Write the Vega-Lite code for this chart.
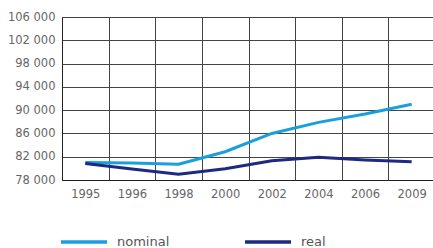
{
  "$schema": "https://vega.github.io/schema/vega-lite/v6.json",
  "autosize": "none",
  "padding": {"left": 62, "top": 17, "right": 0, "bottom": 68},
  "width": 373,
  "height": 163,
  "background": "white",
  "config": {
    "view": {"stroke": null},
    "font": "DejaVu Sans",
    "axis": {"labelFont": "DejaVu Sans", "labelColor": "#666", "labelFontSize": 11.5, "gridColor": "#444", "gridOpacity": 1, "gridWidth": 1, "domainColor": "#222", "ticks": false}
  },
  "data": {
    "values": [
      {"year": "1995", "series": "nominal", "value": 81000},
      {"year": "1996", "series": "nominal", "value": 80900},
      {"year": "1998", "series": "nominal", "value": 80700},
      {"year": "2000", "series": "nominal", "value": 82850},
      {"year": "2002", "series": "nominal", "value": 86000},
      {"year": "2004", "series": "nominal", "value": 87900},
      {"year": "2006", "series": "nominal", "value": 89350},
      {"year": "2009", "series": "nominal", "value": 91000},
      {"year": "1995", "series": "real", "value": 80850},
      {"year": "1996", "series": "real", "value": 79900},
      {"year": "1998", "series": "real", "value": 78980},
      {"year": "2000", "series": "real", "value": 79950},
      {"year": "2002", "series": "real", "value": 81300},
      {"year": "2004", "series": "real", "value": 81900},
      {"year": "2006", "series": "real", "value": 81450},
      {"year": "2009", "series": "real", "value": 81150}
    ]
  },
  "mark": {"type": "line", "strokeWidth": 3, "strokeCap": "butt", "clip": false},
  "encoding": {
    "x": {
      "field": "year", "type": "ordinal", "sort": null,
      "scale": {"type": "band", "paddingInner": 0, "paddingOuter": 0},
      "axis": {"title": null, "labelAngle": 0, "tickBand": "extent", "grid": true, "labelPadding": 8, "domain": true}
    },
    "y": {
      "field": "value", "type": "quantitative",
      "scale": {"domain": [78000, 106000], "nice": false, "zero": false},
      "axis": {"title": null, "values": [78000, 82000, 86000, 90000, 94000, 98000, 102000, 106000], "labelExpr": "replace(format(datum.value, ',d'), ',', ' ')", "labelPadding": 7, "grid": true, "domain": true}
    },
    "color": {
      "field": "series", "type": "nominal",
      "scale": {"domain": ["nominal", "real"], "range": ["#1a9fdc", "#1c2a80"]},
      "legend": {
        "title": null, "orient": "none", "direction": "horizontal", "legendX": -3, "legendY": 200,
        "symbolType": "stroke", "symbolSize": 2116, "symbolStrokeWidth": 3.5,
        "labelFont": "DejaVu Sans", "labelFontSize": 13, "labelColor": "#555", "labelOffset": 8, "columnPadding": 68, "padding": 0
      }
    }
  }
}
